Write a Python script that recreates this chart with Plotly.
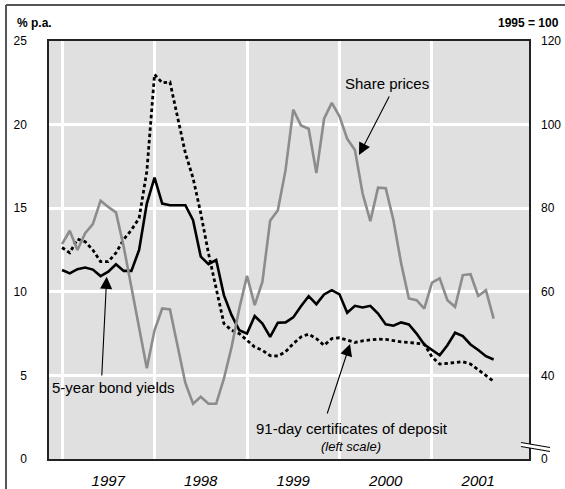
import numpy as np
import plotly.graph_objects as go

# Monthly observations, January 1997 to September 2001
start_year = 1997
years = [1997, 1998, 1999, 2000, 2001]

# Share price index, 1995 = 100 (right scale)
share_prices = [71.4, 74.6, 70.0, 74.0, 76.2, 81.8, 80.3, 79.0, 70.8, 61.2, 51.2, 41.7,
                50.8, 56.0, 55.8, 47.2, 38.2, 33.2, 34.9, 33.2, 33.2, 39.2, 46.8, 56.0,
                63.8, 56.8, 62.4, 77.0, 79.5, 89.1, 103.6, 99.8, 99.0, 88.4, 101.4, 105.2,
                102.0, 96.6, 93.9, 83.5, 76.9, 84.9, 84.8, 77.1, 66.8, 58.4, 58.0, 56.0,
                62.2, 63.2, 58.0, 56.4, 64.0, 64.2, 59.0, 60.4, 53.6]

# 5-year bond yields, % p.a. (left scale)
bond_yields = [11.3, 11.1, 11.35, 11.45, 11.33, 10.94, 11.2, 11.65, 11.25, 11.25, 12.5, 15.28,
               16.83, 15.28, 15.18, 15.18, 15.18, 14.28, 12.1, 11.65, 11.9, 9.8, 8.6, 7.7,
               7.5, 8.55, 8.1, 7.3, 8.15, 8.17, 8.47, 9.14, 9.74, 9.26, 9.84, 10.1,
               9.85, 8.75, 9.16, 9.06, 9.16, 8.7, 8.05, 7.97, 8.17, 8.05, 7.5, 6.85,
               6.5, 6.2, 6.8, 7.55, 7.35, 6.85, 6.52, 6.15, 5.95]

# 91-day certificates of deposit, % p.a. (left scale)
cd_rates = [12.65, 12.33, 13.15, 13.0, 12.5, 11.8, 11.8, 12.33, 13.13, 13.7, 14.4, 17.2,
            23.0, 22.5, 22.55, 20.45, 18.3, 16.8, 14.7, 12.3, 10.3, 8.1, 7.7, 7.5,
            7.1, 6.7, 6.5, 6.18, 6.16, 6.41, 6.9, 7.3, 7.47, 7.2, 6.8, 7.2,
            7.25, 7.1, 6.97, 7.07, 7.1, 7.17, 7.15, 7.07, 7.0, 6.97, 6.9, 6.87,
            6.1, 5.68, 5.72, 5.78, 5.82, 5.68, 5.32, 5.0, 4.65]

left_ticks = [0, 5, 10, 15, 20, 25]
right_ticks = [20, 40, 60, 80, 100, 120]
right_labels = ["0", "40", "60", "80", "100", "120"]

t = start_year + np.arange(len(share_prices)) / 12.0

W, H = 565, 489
L, R, T, B = 49, 36, 41, 30
FONT = "Liberation Sans, Arial, Helvetica, sans-serif"


def px(x):
    return (x - L) / (W - L - R)


def py(y):
    return (H - B - y) / (H - T - B)


fig = go.Figure()
fig.add_trace(go.Scatter(x=t, y=share_prices, yaxis="y2", mode="lines",
                         line=dict(color="#8c8c8c", width=2.6), name="Share prices"))
fig.add_trace(go.Scatter(x=t, y=cd_rates, mode="lines",
                         line=dict(color="black", width=2.8, dash="3.5px,2.8px"),
                         name="91-day certificates of deposit"))
fig.add_trace(go.Scatter(x=t, y=bond_yields, mode="lines",
                         line=dict(color="black", width=2.6), name="5-year bond yields"))

axis_line = dict(showline=True, linecolor="#222222", linewidth=1.5, mirror=True,
                 automargin=False)

fig.update_layout(
    width=W, height=H,
    margin=dict(l=L, r=R, t=T, b=B, pad=0, autoexpand=False),
    paper_bgcolor="white", plot_bgcolor="#e0e0e0",
    showlegend=False,
    font=dict(family=FONT, color="black", size=12),
    xaxis=dict(range=[1996.859, 2002.049], tickmode="array",
               tickvals=[y + 0.5 for y in years],
               ticktext=[f"<i>{y}</i>" for y in years],
               tickfont=dict(size=15), ticks="", showgrid=False, zeroline=False,
               ticklabelstandoff=7,
               minor=dict(tickmode="array", tickvals=years, showgrid=True,
                          gridcolor="white", gridwidth=3, ticks=""),
               **axis_line),
    yaxis=dict(range=[0, 25], tickmode="array", tickvals=left_ticks,
               tickfont=dict(size=12), ticks="", showgrid=False, zeroline=False,
               ticklabelstandoff=18,
               minor=dict(tickmode="array", tickvals=left_ticks[1:-1], showgrid=True,
                          gridcolor="white", gridwidth=3, ticks=""),
               **axis_line),
    yaxis2=dict(range=[20, 120], overlaying="y", side="right", tickmode="array",
                tickvals=right_ticks, ticktext=right_labels,
                tickfont=dict(size=12), ticks="", showgrid=False, zeroline=False,
                showline=False, ticklabelstandoff=11, automargin=False),
)

# Unit labels above the axes
fig.add_annotation(xref="paper", yref="paper", x=px(15), y=py(22.5), xanchor="left",
                   yanchor="middle", text="<b>% p.a.</b>", showarrow=False,
                   font=dict(size=12))
fig.add_annotation(xref="paper", yref="paper", x=px(561), y=py(22.5), xanchor="right",
                   yanchor="middle", text="<b>1995 = 100</b>", showarrow=False,
                   font=dict(size=12))

# Series labels
fig.add_annotation(x=2000.51, y=22.45, text="Share prices", showarrow=False,
                   font=dict(size=15))
fig.add_annotation(x=1997.551, y=4.25, text="5-year bond yields", showarrow=False,
                   font=dict(size=15))
fig.add_annotation(x=2000.135, y=1.85, text="91-day certificates of deposit",
                   showarrow=False, font=dict(size=15))
fig.add_annotation(x=2000.119, y=0.72, text="<i>(left scale)</i>", showarrow=False,
                   font=dict(size=13))

# Pointer arrows
arrow = dict(text="", showarrow=True, arrowhead=2, arrowsize=2.2, arrowwidth=1.1,
             arrowcolor="black", axref="x", standoff=0, startstandoff=0)
fig.add_annotation(x=2000.211, y=18.18, ax=2000.546, ay=21.77, ayref="y", **arrow)
fig.add_annotation(x=1997.483, y=10.9, ax=1997.429, ay=4.9, ayref="y", **arrow)
fig.add_annotation(x=2000.114, y=6.88, ax=1999.862, ay=2.63, ayref="y", **arrow)

# Outer frame (top and left edges)
frame = dict(color="#555555", width=2)
fig.add_shape(type="line", xref="paper", yref="paper", x0=px(6), y0=py(5), x1=px(W + 5),
              y1=py(5), line=frame)
fig.add_shape(type="line", xref="paper", yref="paper", x0=px(6), y0=py(5), x1=px(6),
              y1=py(H + 5), line=frame)

# Scale break on the right axis
fig.add_shape(type="path", xref="paper", yref="paper", fillcolor="white",
              line=dict(width=0),
              path=(f"M {px(521)} {py(442.5)} L {px(550)} {py(447.5)} "
                    f"L {px(550)} {py(451.5)} L {px(521)} {py(446.5)} Z"))
for y0 in (442.5, 446.5):
    fig.add_shape(type="line", xref="paper", yref="paper", x0=px(521), y0=py(y0),
                  x1=px(550), y1=py(y0 + 5), line=dict(color="black", width=1.2))

fig.write_html("out.html")
